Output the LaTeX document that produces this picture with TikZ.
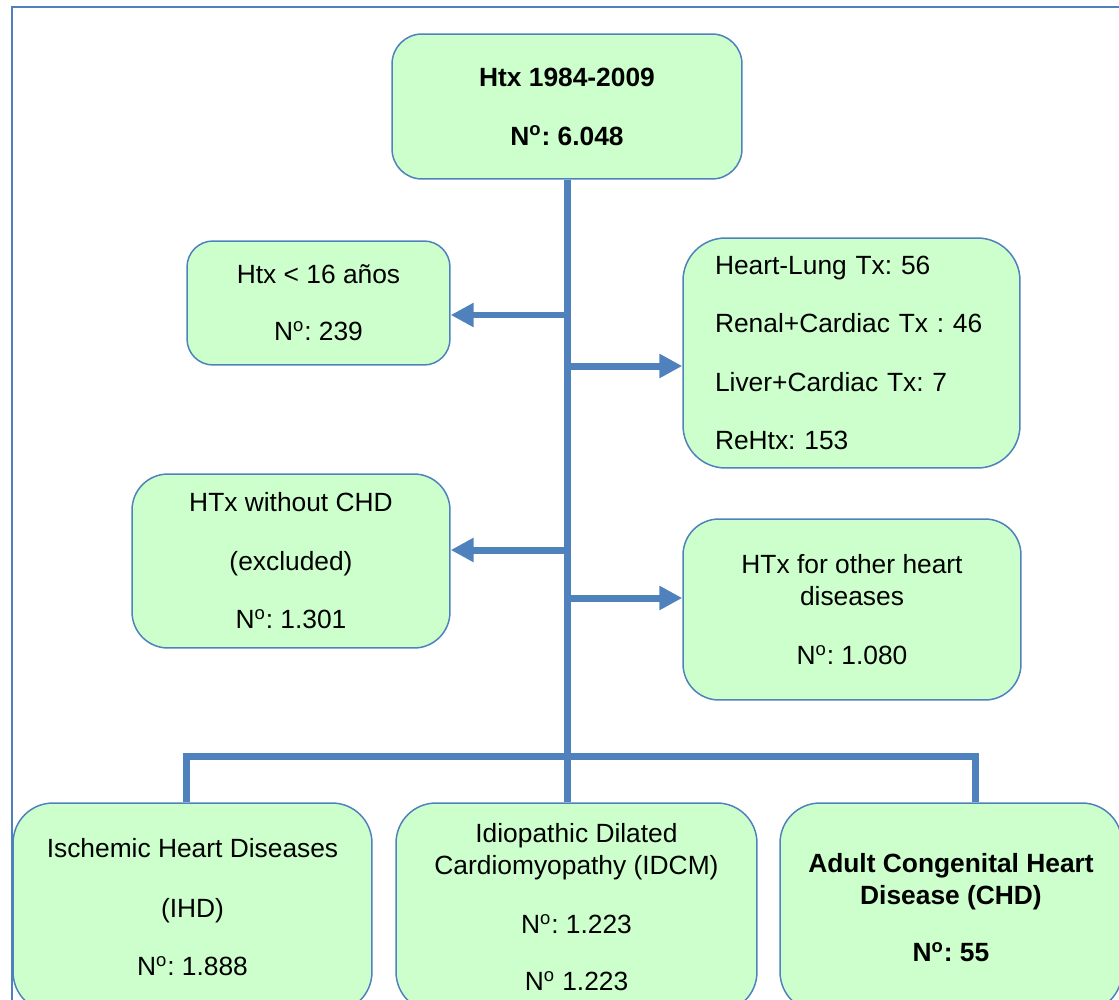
\documentclass[tikz,border=0pt]{standalone}
\usepackage{fontspec}
\setmainfont{Liberation Sans}
\usepackage{tikz}
\usetikzlibrary{arrows.meta,positioning,calc}
\definecolor{linkblue}{HTML}{4F81BD}
\definecolor{boxgreen}{HTML}{CCFFCC}
\newcommand{\boxfont}{\fontsize{15}{18.2}\selectfont\frenchspacing}
\newcommand{\numsign}{N\textsuperscript{o}}

\begin{document}
\begin{tikzpicture}[x=0.02cm,y=-0.02cm,
        box/.style={draw=linkblue,fill=boxgreen,line width=0.85pt,inner sep=0pt,align=center,font=\boxfont},
        boldbox/.style={box,font=\boxfont\bfseries},
        link/.style={draw=linkblue,line width=0.14cm},
        arr/.style={link,-{Triangle[length=0.46cm,width=0.46cm]}},
        frame/.style={draw=linkblue,line width=1.1pt}]
    \clip (0,0) rectangle (1119,1000);
    \draw   [frame]     (12,7) rectangle (1135,1015);

    \node   [boldbox,minimum width=7cm,minimum height=2.9cm,rounded corners=0.6cm]        (top)   at (567,106.5)  {Htx 1984-2009\\[0.54cm]\numsign: 6.048};
    \node   [box,minimum width=5.26cm,minimum height=2.48cm,rounded corners=0.52cm]       (young) at (318.5,303)  {Htx < 16 años\\[0.5cm]\numsign: 239};
    \node   [box,align=left,text width=5.46cm,minimum width=6.74cm,minimum height=4.6cm,rounded corners=0.85cm]
                                                                                            (multi) at (851.5,353)  {Heart-Lung Tx: 56\\[0.53cm]Renal+Cardiac Tx : 46\\[0.53cm]Liver+Cardiac Tx: 7\\[0.53cm]ReHtx: 153};
    \node   [box,minimum width=6.36cm,minimum height=3.48cm,rounded corners=0.72cm]       (nochd) at (291,561)    {HTx without CHD\\[0.54cm](excluded)\\[0.52cm]\numsign: 1.301};
    \node   [box,minimum width=6.76cm,minimum height=3.62cm,rounded corners=0.72cm]       (other) at (852,609.5)  {HTx for other heart\\diseases\\[0.54cm]\numsign: 1.080};
    \node   [box,minimum width=7.18cm,minimum height=4.18cm,rounded corners=0.8cm]        (ihd)   at (192.5,907.5) {Ischemic Heart Diseases\\[0.56cm](IHD)\\[0.52cm]\numsign: 1.888};
    \node   [box,minimum width=7.22cm,minimum height=4.18cm,rounded corners=0.8cm]        (idcm)  at (576.5,907.5) {Idiopathic Dilated\\Cardiomyopathy (IDCM)\\[0.54cm]\numsign: 1.223\\[0.5cm]\numsign{} 1.223};
    \node   [boldbox,minimum width=6.84cm,minimum height=4.18cm,rounded corners=0.8cm]    (chd)   at (951,907.5)  {Adult Congenital Heart\\Disease (CHD)\\[0.5cm]\numsign: 55};

    \coordinate (j1)    at (566.5,315);
    \coordinate (j2)    at (566.5,366);
    \coordinate (j3)    at (566.5,550);
    \coordinate (j4)    at (566.5,598);
    \coordinate (bar)   at (566.5,756);
    \coordinate (dropL) at (186.5,803);
    \coordinate (dropR) at (975,803);

    \draw   [link]  (top.south) -- (top.south |- idcm.north);
    \draw   [arr]   (j1) -- (j1 -| young.east);
    \draw   [arr]   (j2) -- (j2 -| multi.west);
    \draw   [arr]   (j3) -- (j3 -| nochd.east);
    \draw   [arr]   (j4) -- (j4 -| other.west);
    \draw   [link]  (ihd.north -| dropL) |- (bar) -| (chd.north -| dropR);
\end{tikzpicture}
\end{document}
